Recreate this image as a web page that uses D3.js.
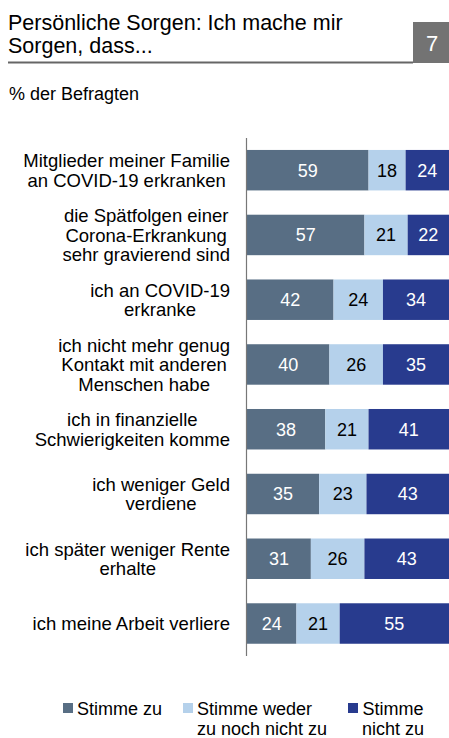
<!DOCTYPE html>
<html lang="de">
<head>
  <meta charset="UTF-8">
  <title>Persönliche Sorgen</title>
  <script src="https://d3js.org/d3.v7.min.js"></script>
  <style>
    body { margin: 0; background: #fff; }
    svg { display: block; font-family: "Liberation Sans", Arial, sans-serif; }
  </style>
</head>
<body>
<svg id="chart" width="449" height="738"></svg>
<script>
  // Daten
  const categories = [
    ["Mitglieder meiner Familie", "an COVID-19 erkranken"],
    ["die Spätfolgen einer", "Corona-Erkrankung", "sehr gravierend sind"],
    ["ich an COVID-19", "erkranke"],
    ["ich nicht mehr genug", "Kontakt mit anderen", "Menschen habe"],
    ["ich in finanzielle", "Schwierigkeiten komme"],
    ["ich weniger Geld", "verdiene"],
    ["ich später weniger Rente", "erhalte"],
    ["ich meine Arbeit verliere"]
  ];
  const stimmeZu = [59, 57, 42, 40, 38, 35, 31, 24];
  const weder = [18, 21, 24, 26, 21, 23, 26, 21];
  const nichtZu = [24, 22, 34, 35, 41, 43, 43, 55];
  const seriesNames = [["Stimme zu"], ["Stimme weder", "zu noch nicht zu"], ["Stimme", "nicht zu"]];
  const colors = ["#586e84", "#b5d1eb", "#283b8e"];
  const textColors = ["#fff", "#000", "#fff"];

  const svg = d3.select("#chart");

  // Kopf
  svg.append("text").attr("x", 8).attr("y", 30).attr("font-size", 21.5).attr("fill", "#000")
    .text("Persönliche Sorgen: Ich mache mir");
  svg.append("text").attr("x", 8).attr("y", 53).attr("font-size", 21.5).attr("fill", "#000")
    .text("Sorgen, dass...");
  svg.append("line").attr("x1", 8).attr("x2", 413).attr("y1", 62.5).attr("y2", 62.5)
    .attr("stroke", "#666").attr("stroke-width", 2);
  svg.append("rect").attr("x", 413).attr("y", 22).attr("width", 36).attr("height", 41).attr("fill", "#737373");
  svg.append("text").attr("x", 432).attr("y", 51).attr("font-size", 22).attr("fill", "#fff")
    .attr("text-anchor", "middle").text("7");
  svg.append("text").attr("x", 9).attr("y", 100).attr("font-size", 18).attr("fill", "#000")
    .text("% der Befragten");

  // Skalen
  const x0 = 247;
  const x = d3.scaleLinear().domain([0, 100]).range([x0, x0 + 206]);
  const y = d3.scaleBand().domain(d3.range(categories.length)).range([137, 656.7])
    .paddingInner(0.375).paddingOuter(0.2);

  const stack = d3.stack().keys([0, 1, 2])
    .value((d, k) => [stimmeZu, weder, nichtZu][k][d]);
  const layers = stack(d3.range(categories.length));

  const g = svg.append("g");
  layers.forEach((layer, k) => {
    const lg = g.append("g");
    lg.selectAll("rect").data(layer).join("rect")
      .attr("x", d => x(d[0]))
      .attr("y", (d, i) => y(i))
      .attr("width", d => x(d[1]) - x(d[0]))
      .attr("height", y.bandwidth())
      .attr("fill", colors[k]);
    lg.selectAll("text").data(layer).join("text")
      .attr("x", d => Math.min((x(d[0]) + x(d[1])) / 2, (x(d[0]) + 449) / 2))
      .attr("y", (d, i) => y(i) + y.bandwidth() / 2)
      .attr("dy", "0.36em")
      .attr("text-anchor", "middle")
      .attr("font-size", 18)
      .attr("fill", textColors[k])
      .text(d => d[1] - d[0]);
  });

  // Achse
  svg.append("line").attr("x1", x0 - 0.5).attr("x2", x0 - 0.5).attr("y1", 138).attr("y2", 656)
    .attr("stroke", "#777").attr("stroke-width", 1.2);

  // Kategorien: Zeilen zentriert, Block rechtsbündig
  const rightX = 230;
  const lh = 19.5;
  categories.forEach((lines, i) => {
    const t = svg.append("text").attr("font-size", 18.5).attr("fill", "#000").attr("text-anchor", "middle");
    const cy = y(i) + y.bandwidth() / 2;
    const top = cy - (lines.length - 1) * lh / 2;
    lines.forEach((s, j) => {
      t.append("tspan").attr("x", 0).attr("y", top + j * lh).attr("dy", "0.36em").text(s);
    });
    const w = t.node().getBBox().width;
    t.selectAll("tspan").attr("x", rightX - w / 2);
  });

  // Legende
  const legendX = [63, 183, 348];
  seriesNames.forEach((lines, k) => {
    svg.append("rect").attr("x", legendX[k]).attr("y", 703).attr("width", 10).attr("height", 10).attr("fill", colors[k]);
    const t = svg.append("text").attr("font-size", 18).attr("fill", "#000");
    lines.forEach((s, j) => {
      t.append("tspan").attr("x", legendX[k] + 14).attr("y", 715 + j * 20).text(s);
    });
    if (k === 2) {
      // letzte Legende: Zeilen zentriert
      const w = t.node().getBBox().width;
      t.attr("text-anchor", "middle").selectAll("tspan").attr("x", legendX[k] + 14 + w / 2);
    }
  });
</script>
</body>
</html>
